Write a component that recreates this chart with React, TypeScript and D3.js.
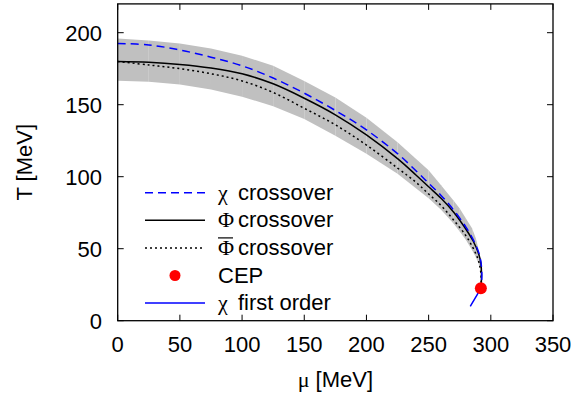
import React from "react";
import * as d3 from "d3";

// phase diagram data (mu in MeV, T in MeV)
const muBand = [0, 25, 50, 75, 100, 125, 150, 175, 200, 225, 250, 260, 270, 275, 280, 285, 288, 290, 292, 292.5];
const bandUpper = [196, 194.5, 192.5, 189, 184, 177, 166.5, 155, 141, 124, 104.5, 94, 83.5, 78, 71, 64, 57, 50, 40, 32];
const bandLower = [166.7, 166, 164, 160.5, 155.5, 149, 140, 128.5, 116, 102, 85, 77, 67.5, 62, 56, 49, 44, 40, 34, 32];

const muPhi = [0, 25, 50, 75, 100, 125, 150, 175, 200, 225, 240, 250, 260, 270, 280, 286, 290, 292, 292.5, 292.2];
const tPhi = [180, 179.5, 178, 175.5, 171.5, 164.5, 154.5, 143, 129, 112.5, 101, 93, 85, 75.5, 63.5, 55, 47, 40, 32, 23];

const muChi = [0, 25, 50, 75, 100, 125, 150, 175, 200, 225, 240, 250, 260, 270, 280, 286, 290, 292, 292.8, 292.2];
const tChi = [192.5, 191.5, 188, 183, 177, 168.5, 158, 146, 132.5, 116, 104, 95.5, 87, 77, 65, 56, 48, 41, 32, 23];

const muPhiBar = [0, 25, 50, 75, 100, 125, 150, 175, 200, 225, 240, 250, 260, 270, 280, 286, 290, 292, 292.2];
const tPhiBar = [180, 177.6, 175, 171.5, 166.5, 158.5, 147.5, 136, 122, 106, 96, 88, 80, 70, 59, 50, 42, 33, 23];

const muFirst = [292.2, 288, 283.5];
const tFirst = [23, 16.5, 10];

const cep = { mu: 292, t: 22.5 };

const xTicks = [0, 50, 100, 150, 200, 250, 300, 350];
const yTicks = [0, 50, 100, 150, 200];

const W = 576;
const H = 395;
const left = 117.7;
const right = 553;
const top = 3.9;
const bottom = 320.7;

const sans = "'Liberation Sans', Arial, sans-serif";
const serif = "'Liberation Serif', 'Times New Roman', serif";

export default function App() {
  const x = d3.scaleLinear().domain([0, 350]).range([left, right]);
  const y = d3.scaleLinear().domain([0, 220]).range([bottom, top]);

  const line = d3
    .line<[number, number]>()
    .x((d) => x(d[0]))
    .y((d) => y(d[1]))
    .curve(d3.curveCatmullRom.alpha(0.5));

  const pts = (mu: number[], t: number[]) => mu.map((m, i) => [m, t[i]] as [number, number]);

  // band drawn as separate quads between sample points
  const bandSegs = muBand.slice(0, -1).map((m, i) => {
    const m2 = muBand[i + 1];
    return `M${x(m)},${y(bandUpper[i])}L${x(m2)},${y(bandUpper[i + 1])}L${x(m2)},${y(bandLower[i + 1])}L${x(m)},${y(bandLower[i])}Z`;
  });

  const tick = 6;
  const legX0 = 145;
  const legX1 = 205;
  const legRow = (i: number) => 192.7 + i * 27.6;

  return (
    <div style={{ position: "fixed", left: 0, top: 0 }}>
      <svg width={W} height={H} style={{ display: "block", background: "#fff" }}>
        <g>
          {bandSegs.map((d, i) => (
            <path key={i} d={d} fill="#c0c0c0" stroke="none" />
          ))}
        </g>

        <path d={line(pts(muPhiBar, tPhiBar)) || ""} fill="none" stroke="#000" strokeWidth={1.5} strokeDasharray="2,3" />
        <path d={line(pts(muPhi, tPhi)) || ""} fill="none" stroke="#000" strokeWidth={1.5} />
        <path d={line(pts(muChi, tChi)) || ""} fill="none" stroke="#0000ff" strokeWidth={1.5} strokeDasharray="8,5" />
        <path d={line(pts(muFirst, tFirst)) || ""} fill="none" stroke="#0000ff" strokeWidth={1.5} />
        <circle cx={x(cep.mu)} cy={y(cep.t)} r={6} fill="#ff0000" />

        {/* frame */}
        <rect x={left} y={top} width={right - left} height={bottom - top} fill="none" stroke="#000" strokeWidth={1.3} />

        {xTicks.map((t) => (
          <g key={"x" + t}>
            <line x1={x(t)} x2={x(t)} y1={bottom} y2={bottom - tick} stroke="#000" />
            <line x1={x(t)} x2={x(t)} y1={top} y2={top + tick} stroke="#000" />
            <text x={x(t)} y={351.5} textAnchor="middle" fontFamily={sans} fontSize={22}>
              {t}
            </text>
          </g>
        ))}
        {yTicks.map((t) => (
          <g key={"y" + t}>
            <line x1={left} x2={left + tick} y1={y(t)} y2={y(t)} stroke="#000" />
            <line x1={right} x2={right - tick} y1={y(t)} y2={y(t)} stroke="#000" />
            <text x={102} y={y(t)} dy="0.36em" textAnchor="end" fontFamily={sans} fontSize={22}>
              {t}
            </text>
          </g>
        ))}

        <text x={(left + right) / 2} y={387} textAnchor="middle" fontFamily={sans} fontSize={22}>
          <tspan fontFamily={serif}>μ</tspan> [MeV]
        </text>
        <text
          transform={`translate(31.5,${(top + bottom) / 2}) rotate(-90)`}
          textAnchor="middle"
          fontFamily={sans}
          fontSize={22}
        >
          T [MeV]
        </text>

        {/* legend */}
        <g fontSize={22} fontFamily={sans}>
          <line x1={legX0} x2={legX1} y1={legRow(0)} y2={legRow(0)} stroke="#0000ff" strokeWidth={1.5} strokeDasharray="8,5" />
          <text x={218} y={legRow(0) + 7} fontFamily={serif}>χ</text>
          <text x={238} y={legRow(0) + 7}>crossover</text>

          <line x1={legX0} x2={legX1} y1={legRow(1)} y2={legRow(1)} stroke="#000" strokeWidth={1.5} />
          <text x={218} y={legRow(1) + 7} fontFamily={serif}>Φ</text>
          <text x={238} y={legRow(1) + 7}>crossover</text>

          <line x1={legX0} x2={legX1} y1={legRow(2)} y2={legRow(2)} stroke="#000" strokeWidth={1.5} strokeDasharray="2,3" />
          <text x={218} y={legRow(2) + 7} fontFamily={serif}>Φ</text>
          <line x1={218} x2={233} y1={legRow(2) - 10} y2={legRow(2) - 10} stroke="#000" strokeWidth={1.2} />
          <text x={238} y={legRow(2) + 7}>crossover</text>

          <circle cx={175} cy={legRow(3)} r={5.5} fill="#ff0000" />
          <text x={218} y={legRow(3) + 7}>CEP</text>

          <line x1={legX0} x2={legX1} y1={legRow(4)} y2={legRow(4)} stroke="#0000ff" strokeWidth={1.5} />
          <text x={218} y={legRow(4) + 7} fontFamily={serif}>χ</text>
          <text x={238} y={legRow(4) + 7}>first order</text>
        </g>
      </svg>
    </div>
  );
}
